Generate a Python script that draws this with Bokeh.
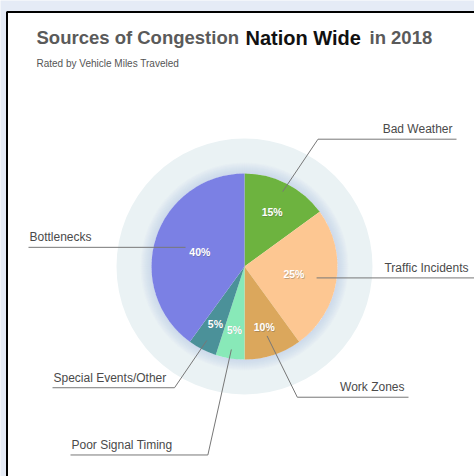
import math
from bokeh.plotting import figure
from bokeh.models import Range1d
from bokeh.core.properties import value
from bokeh.embed import file_html
from bokeh.resources import INLINE

# ---- data ----
categories = ["Bad Weather", "Traffic Incidents", "Work Zones",
              "Poor Signal Timing", "Special Events/Other", "Bottlenecks"]
shares = [15, 25, 10, 5, 5, 40]
colors = ["#6db33f", "#fdc792", "#dba75c", "#88e9b8", "#4b9199", "#7b80e4"]

# ---- layout ----
W, H = 474, 476
CX, CY = 244, H - 266
R = 93
HALO = 128
pct_r = [61, 50, 64, 64, 64, 47]          # radius of percentage labels
start_r = [84, 73, 73, 84, 83, 62]        # connector start radius
elbow_r = [147, None, 141, 192, 140, None]
elbow_off = [3, 0, -4, 2, 3, 0]           # degrees
end_x = [456, 474, 408, 70, 52, 28]
side = ["r", "r", "r", "l", "l", "l"]

FONT = value("Liberation Sans")

p = figure(width=W, height=H, output_backend="svg", toolbar_location=None,
           x_range=Range1d(0, W), y_range=Range1d(0, H),
           min_border=0, border_fill_color="#e5ebf6", background_fill_color="#e5ebf6",
           outline_line_color=None)
p.axis.visible = False
p.grid.visible = False

# white panel with black border
p.quad(left=[6.5], right=[W + 10], top=[H - 11.5], bottom=[-10],
       fill_color="white", line_color="black", line_width=2)

# halo ring + soft shadow
p.annular_wedge(x=[CX], y=[CY], inner_radius=R, outer_radius=HALO,
                start_angle=0, end_angle=2 * math.pi,
                fill_color="#eaf2f4", line_color=None)
for k in range(1, 12):
    p.annular_wedge(x=[CX], y=[CY], inner_radius=R, outer_radius=R + k,
                    start_angle=0, end_angle=2 * math.pi,
                    fill_color="#b9cbea", fill_alpha=0.05, line_color=None)

# pie
total = sum(shares)
cum = 0
starts, ends, mids = [], [], []
for s in shares:
    a0 = cum / total
    cum += s
    a1 = cum / total
    starts.append(math.pi / 2 - 2 * math.pi * a1)
    ends.append(math.pi / 2 - 2 * math.pi * a0)
    mids.append(360 * (a0 + a1) / 2)  # clockwise from top, degrees

p.wedge(x=[CX] * len(shares), y=[CY] * len(shares), radius=R,
        start_angle=starts, end_angle=ends,
        fill_color=colors, line_color=None)

def pt(r, deg):
    t = math.radians(deg)
    return CX + r * math.sin(t), CY + r * math.cos(t)

# percentage labels
px, py, ptxt = [], [], []
for i, s in enumerate(shares):
    x, y = pt(pct_r[i], mids[i])
    px.append(x); py.append(y); ptxt.append(f"{s}%")
p.text(x=[v + 0.6 for v in px], y=[v - 0.6 for v in py], text=ptxt,
       text_font=FONT, text_font_size="10.5px", text_font_style="bold",
       text_color="#555555", text_alpha=0.35, text_align="center", text_baseline="middle")
p.text(x=px, y=py, text=ptxt, text_font=FONT, text_font_size="10.5px",
       text_font_style="bold", text_color="white", text_align="center",
       text_baseline="middle")

# connectors and outer labels
for i, name in enumerate(categories):
    sx, sy = pt(start_r[i], mids[i])
    xs, ys = [sx], [sy]
    if elbow_r[i] is not None:
        ex, ey = pt(elbow_r[i], mids[i] + elbow_off[i])
    else:
        ex, ey = sx, sy
    xs += [ex, end_x[i]]
    ys += [ey, ey]
    p.line(xs, ys, line_color="#777777", line_width=1)
    if side[i] == "r":
        tx, align = end_x[i] - 4, "right"
        if end_x[i] >= W:
            tx = end_x[i] - 6
    else:
        tx, align = end_x[i] + 1, "left"
    p.text(x=[tx], y=[ey + 3], text=[name], text_font=FONT,
           text_font_size="12px", text_color="#4a4a4a",
           text_align=align, text_baseline="bottom")

# title
ty = H - 37
p.text(x=[36], y=[ty], text=["Sources of Congestion"], text_font=FONT,
       text_font_size="18.5px", text_font_style="bold", text_color="#5a5a5a",
       text_baseline="middle")
p.text(x=[245], y=[ty], text=["Nation Wide"], text_font=FONT,
       text_font_size="20px", text_font_style="bold", text_color="#111111",
       text_baseline="middle")
p.text(x=[369], y=[ty], text=["in 2018"], text_font=FONT,
       text_font_size="18.5px", text_font_style="bold", text_color="#5a5a5a",
       text_baseline="middle")
p.text(x=[36], y=[H - 63], text=["Rated by Vehicle Miles Traveled"], text_font=FONT,
       text_font_size="10px", text_color="#555555", text_baseline="middle")

open("out.html", "w").write(file_html(p, INLINE))
